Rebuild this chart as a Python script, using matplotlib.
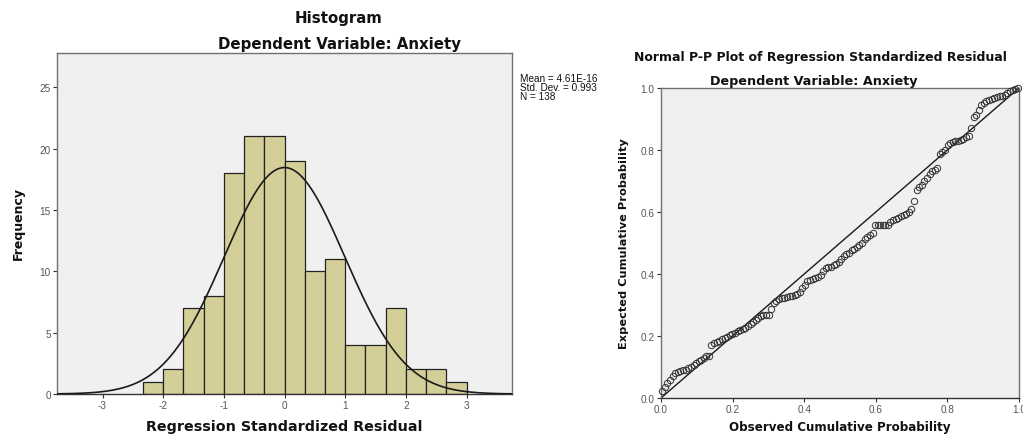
import numpy as np
import matplotlib
matplotlib.use('Agg')
import matplotlib.pyplot as plt

plt.rcParams['font.family'] = ['Liberation Sans', 'DejaVu Sans']
plt.rcParams['axes.unicode_minus'] = False

# histogram of regression standardized residuals
bin_edges = [-2.333, -2.0, -1.667, -1.333, -1.0, -0.667, -0.333, 0.0, 0.333,
             0.667, 1.0, 1.333, 1.667, 2.0, 2.333, 2.667, 3.0]
counts = [1, 2, 7, 8, 18, 21, 21, 19, 10, 11, 4, 4, 7, 2, 2, 1]
res_mean = 4.61e-16
res_sd = 0.993
n_obs = 138
hist_xticks = [-3, -2, -1, 0, 1, 2, 3]
hist_yticks = [0, 5, 10, 15, 20, 25]

# normal P-P plot points (observed vs expected cumulative probability)
observed = [0.004, 0.011, 0.018, 0.025, 0.033, 0.040, 0.047, 0.054, 0.062, 0.069,
            0.076, 0.083, 0.091, 0.098, 0.105, 0.112, 0.120, 0.127, 0.134, 0.141,
            0.149, 0.156, 0.163, 0.170, 0.178, 0.185, 0.192, 0.199, 0.207, 0.214,
            0.221, 0.228, 0.236, 0.243, 0.250, 0.257, 0.264, 0.272, 0.279, 0.286,
            0.293, 0.301, 0.308, 0.315, 0.322, 0.330, 0.337, 0.344, 0.351, 0.359,
            0.366, 0.373, 0.380, 0.388, 0.395, 0.402, 0.409, 0.417, 0.424, 0.431,
            0.438, 0.446, 0.453, 0.460, 0.467, 0.475, 0.482, 0.489, 0.496, 0.504,
            0.511, 0.518, 0.525, 0.533, 0.540, 0.547, 0.554, 0.562, 0.569, 0.576,
            0.583, 0.591, 0.598, 0.605, 0.612, 0.620, 0.627, 0.634, 0.641, 0.649,
            0.656, 0.663, 0.670, 0.678, 0.685, 0.692, 0.699, 0.707, 0.714, 0.721,
            0.728, 0.736, 0.743, 0.750, 0.757, 0.764, 0.772, 0.779, 0.786, 0.793,
            0.801, 0.808, 0.815, 0.822, 0.830, 0.837, 0.844, 0.851, 0.859, 0.866,
            0.873, 0.880, 0.888, 0.895, 0.902, 0.909, 0.917, 0.924, 0.931, 0.938,
            0.946, 0.953, 0.960, 0.967, 0.975, 0.982, 0.989, 0.996]
expected = [0.022, 0.035, 0.047, 0.058, 0.070, 0.080, 0.085, 0.087, 0.089, 0.091,
            0.096, 0.101, 0.107, 0.112, 0.118, 0.124, 0.130, 0.134, 0.136, 0.172,
            0.176, 0.180, 0.185, 0.189, 0.194, 0.198, 0.202, 0.205, 0.210, 0.215,
            0.219, 0.223, 0.227, 0.232, 0.238, 0.244, 0.251, 0.258, 0.263, 0.267,
            0.268, 0.269, 0.286, 0.308, 0.314, 0.319, 0.322, 0.324, 0.326, 0.328,
            0.330, 0.333, 0.337, 0.342, 0.354, 0.366, 0.377, 0.382, 0.384, 0.386,
            0.391, 0.398, 0.410, 0.418, 0.421, 0.424, 0.428, 0.433, 0.440, 0.449,
            0.457, 0.463, 0.469, 0.476, 0.482, 0.488, 0.493, 0.500, 0.512, 0.520,
            0.526, 0.531, 0.557, 0.557, 0.557, 0.557, 0.557, 0.557, 0.568, 0.573,
            0.577, 0.582, 0.586, 0.590, 0.594, 0.600, 0.610, 0.637, 0.670, 0.680,
            0.688, 0.700, 0.711, 0.722, 0.731, 0.737, 0.742, 0.786, 0.792, 0.799,
            0.815, 0.821, 0.826, 0.828, 0.830, 0.832, 0.836, 0.841, 0.846, 0.870,
            0.905, 0.912, 0.930, 0.945, 0.953, 0.958, 0.962, 0.965, 0.968, 0.971,
            0.973, 0.975, 0.979, 0.984, 0.989, 0.994, 0.997, 0.999]
pp_ticks = [0.0, 0.2, 0.4, 0.6, 0.8, 1.0]

W, H = 1023, 435
fig = plt.figure(figsize=(W / 100, H / 100), dpi=100)
fig.patch.set_facecolor('white')

bg = '#f0f0f0'
tick_col = '#555555'
bold = dict(family='DejaVu Sans', fontweight='bold', color='#111111')

def style_axes(ax):
    ax.set_facecolor(bg)
    for s in ax.spines.values():
        s.set_color('#707070')
        s.set_linewidth(1.0)
    ax.spines['bottom'].set_color('#333333')
    ax.tick_params(direction='out', length=3, width=0.8, color='#333333',
                   labelsize=7.2, labelcolor=tick_col, pad=1.5)

def ftext(x, y, s, **kw):
    # place text with pixel coords measured from the top-left corner
    fig.text(x / W, 1 - y / H, s, **kw)

# ---- histogram ----
ax1 = fig.add_axes([57 / W, 1 - 395 / H, 455 / W, 341 / H])
style_axes(ax1)
edges = np.array(bin_edges)
ax1.bar(edges[:-1], counts, width=np.diff(edges), align='edge',
        color='#d4cf98', edgecolor='#222222', linewidth=0.9, zorder=2)

bw = edges[1] - edges[0]
xs = np.linspace(-3.75, 3.75, 400)
curve = n_obs * bw * np.exp(-0.5 * ((xs - res_mean) / res_sd) ** 2) / (res_sd * np.sqrt(2 * np.pi))
ax1.plot(xs, curve, color='#1a1a1a', linewidth=1.2, zorder=3)

ax1.set_xlim(-3.75, 3.75)
ax1.set_ylim(0, 27.8)
ax1.set_xticks(hist_xticks)
ax1.set_yticks(hist_yticks)

ftext(339, 18, 'Histogram', ha='center', va='center', fontsize=10.8, **bold)
ftext(339, 45, 'Dependent Variable: Anxiety', ha='center', va='center', fontsize=10.8, **bold)
ftext(284, 431, 'Regression Standardized Residual', ha='center', va='baseline', fontsize=10.3, **bold)
ftext(18, 224, 'Frequency', ha='center', va='center', rotation=90, fontsize=9, **bold)

ftext(520, 74, 'Mean = 4.61E-16\nStd. Dev. = %.3f\nN = %d' % (res_sd, n_obs),
      ha='left', va='top', fontsize=7.2, linespacing=0.9, color='#111111')

# ---- P-P plot ----
ax2 = fig.add_axes([661 / W, 1 - 399 / H, 358 / W, 310 / H])
style_axes(ax2)
ax2.plot([0, 1], [0, 1], color='#1a1a1a', linewidth=1.0, zorder=2)
ax2.plot(observed, expected, linestyle='none', marker='o', markersize=4.6,
         markerfacecolor='none', markeredgecolor='#333333', markeredgewidth=0.7,
         zorder=3, clip_on=False)
ax2.set_xlim(0, 1)
ax2.set_ylim(0, 1)
ax2.set_xticks(pp_ticks)
ax2.set_yticks(pp_ticks)
ax2.set_xticklabels(['%.1f' % t for t in pp_ticks])
ax2.set_yticklabels(['%.1f' % t for t in pp_ticks])

ftext(820, 57, 'Normal P-P Plot of Regression Standardized Residual', ha='center',
      va='center', fontsize=9, **bold)
ftext(814, 81, 'Dependent Variable: Anxiety', ha='center', va='center', fontsize=9.2, **bold)
ftext(840, 431, 'Observed Cumulative Probability', ha='center', va='baseline', fontsize=8.6, **bold)
ftext(624, 244, 'Expected Cumulative Probability', ha='center', va='center', rotation=90,
      fontsize=8.2, **bold)

fig.savefig('out.png', dpi=100, facecolor='white')
